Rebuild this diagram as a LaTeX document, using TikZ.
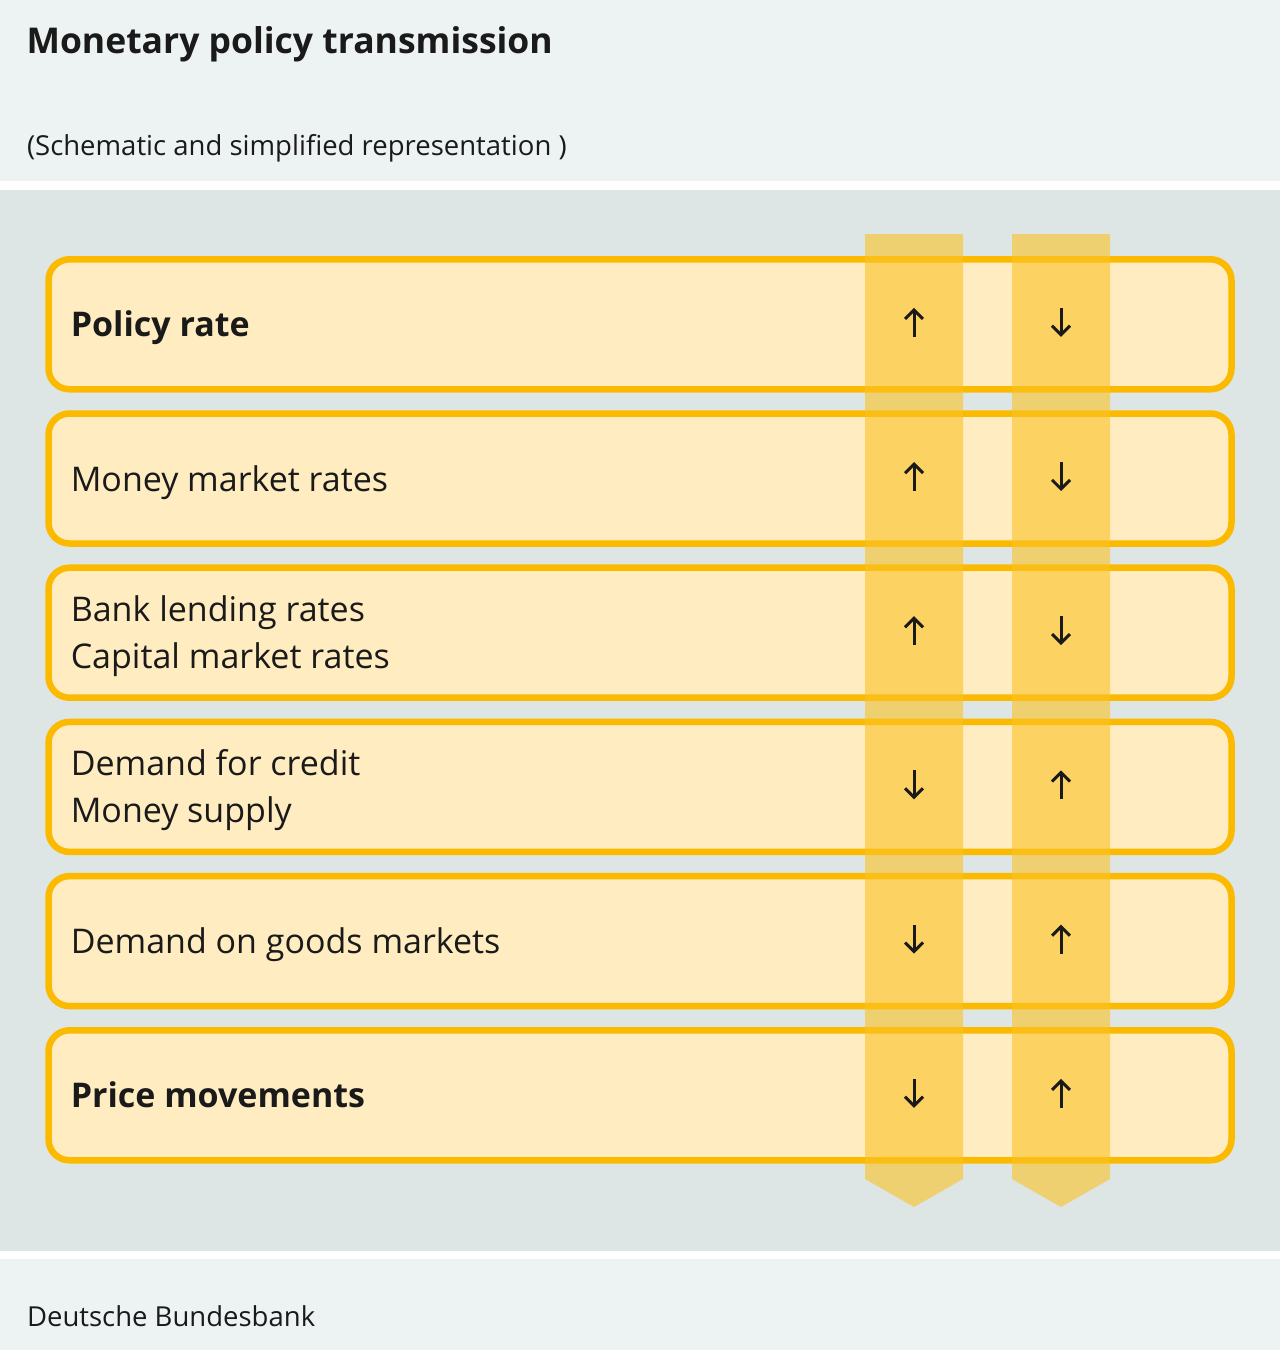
\documentclass[tikz,border=0pt]{standalone}
\usepackage{fontspec}
\setmainfont{Open Sans}
\usepackage{tikz}
\usetikzlibrary{arrows.meta}

\definecolor{bandgrey}{RGB}{237,242,242}
\definecolor{panelgrey}{RGB}{221,229,229}
\definecolor{boxfill}{RGB}{255,236,192}
\definecolor{boxline}{RGB}{251,186,0}
\definecolor{barcol}{RGB}{251,194,36}
\definecolor{ink}{RGB}{26,26,26}

\begin{document}
\begin{tikzpicture}[x=1pt,y=-1pt,node distance=154.2pt,text=ink,
                    row box/.style={draw=boxline,line width=6.5pt,fill=boxfill,rounded corners=21pt,
                                    minimum width=1183pt,minimum height=130pt,inner sep=0pt},
                    row label/.style={anchor=base west,align=left,xshift=22pt,
                                      font=\fontsize{34}{47}\selectfont},
                    bar/.style={fill=barcol,fill opacity=0.6},
                    trend/.style={draw=ink,line width=3pt,-{Straight Barb[length=9pt,width=18pt]}}]

  \fill[bandgrey] (0,0) rectangle (1280,180.5);
  \fill[white] (0,180.5) rectangle (1280,189.5);
  \fill[panelgrey] (0,189.5) rectangle (1280,1251);
  \fill[white] (0,1251) rectangle (1280,1259);
  \fill[bandgrey] (0,1259) rectangle (1280,1350);
  \useasboundingbox (0,0) rectangle (1280,1350);

  \node[anchor=base west,font=\bfseries\fontsize{35.5}{42}\selectfont] (title) at (23,53) {Monetary policy transmission};
  \node[anchor=base west,font=\fontsize{27.5}{33}\selectfont] (subtitle) at (23.5,155) {(Schematic and simplified representation )};
  \node[anchor=base west,font=\fontsize{27.5}{33}\selectfont] (source) at (23.5,1326) {Deutsche Bundesbank};

  \node[row box] (policy) at (640,324.3) {};
  \node[row box] (money) [below of=policy] {};
  \node[row box] (lending) [below of=money] {};
  \node[row box] (credit) [below of=lending] {};
  \node[row box] (goods) [below of=credit] {};
  \node[row box] (prices) [below of=goods] {};

  \node[row label,yshift=-12.5pt] (policy text) at (policy.west) {\bfseries Policy rate};
  \node[row label,yshift=-12.5pt] (money text) at (money.west) {Money market rates};
  \node[row label,yshift=-35.4pt] (lending text) at (lending.west) {Bank lending rates\\Capital market rates};
  \node[row label,yshift=-35.4pt] (credit text) at (credit.west) {Demand for credit\\Money supply};
  \node[row label,yshift=-12.5pt] (goods text) at (goods.west) {Demand on goods markets};
  \node[row label,yshift=-12.5pt] (prices text) at (prices.west) {\bfseries Price movements};

  \coordinate (tighten) at (914,0);
  \coordinate (loosen) at (1061,0);

  \foreach \cx in {914,1061}
    \fill[bar] (\cx-49,234) -- (\cx+49,234) -- (\cx+49,1179) -- (\cx,1207) -- (\cx-49,1179) -- cycle;

  \foreach \row/\dir in {policy/-1,money/-1,lending/-1,credit/1,goods/1,prices/1} {
    \draw[trend] (tighten |- \row) ++(0,{-2-14.5*(\dir)}) -- ++(0,{29*(\dir)});
    \draw[trend] (loosen |- \row) ++(0,{-2+14.5*(\dir)}) -- ++(0,{-29*(\dir)});
  }

\end{tikzpicture}
\end{document}
